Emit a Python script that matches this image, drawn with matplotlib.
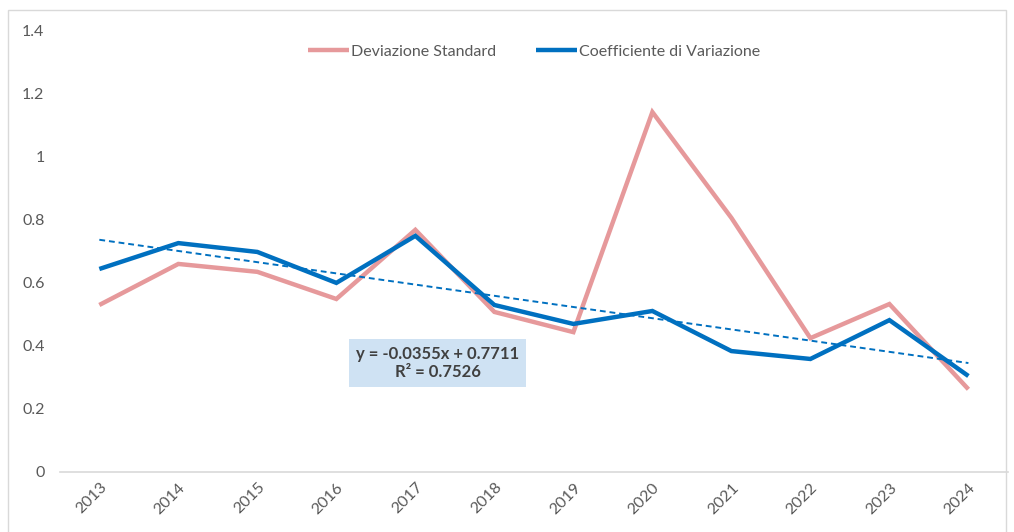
import matplotlib
matplotlib.use('Agg')
import matplotlib.pyplot as plt
import matplotlib.patches as patches
import numpy as np

years = ['2013', '2014', '2015', '2016', '2017', '2018', '2019', '2020', '2021', '2022', '2023', '2024']
dev_std = [0.529, 0.659, 0.634, 0.548, 0.767, 0.507, 0.443, 1.140, 0.805, 0.424, 0.532, 0.262]
coef_var = [0.643, 0.725, 0.697, 0.599, 0.748, 0.529, 0.469, 0.510, 0.383, 0.358, 0.481, 0.304]
trend_slope = -0.0355
trend_icpt = 0.7711
trend_r2 = 0.7526

plt.rcParams['font.family'] = ['Lato', 'DejaVu Sans']

fig = plt.figure(figsize=(10.14, 5.32), dpi=100, facecolor='white')
ax = fig.add_axes([0.059, 0.1128, 0.935, 0.8308])

x = np.arange(len(years))
ax.plot(x, dev_std, color='#e6999b', linewidth=3.2, label='Deviazione Standard',
        solid_capstyle='butt', solid_joinstyle='miter')
ax.plot(x, coef_var, color='#0070c0', linewidth=3.2, label='Coefficiente di Variazione',
        solid_capstyle='butt', solid_joinstyle='miter')

# linear trend of Coefficiente di Variazione (x = 1..12)
trend = trend_slope * (x + 1) + trend_icpt
ax.plot(x, trend, color='#0070c0', linewidth=1.4, linestyle=(0, (3, 2)))

ax.text(4.28, 0.345, f'y = {trend_slope}x + {trend_icpt}\nR² = {trend_r2}',
        ha='center', va='center', fontsize=12, fontweight='bold', color='#404040',
        linespacing=1.2,
        bbox=dict(boxstyle='square,pad=0.4', facecolor='#cfe2f3', edgecolor='none'))

ax.set_xlim(-0.5, 11.5)
ax.set_ylim(0, 1.4)
ax.set_yticks([0, 0.2, 0.4, 0.6, 0.8, 1.0, 1.2, 1.4])
ax.set_yticklabels(['0', '0.2', '0.4', '0.6', '0.8', '1', '1.2', '1.4'])
ax.set_xticks(x)
ax.set_xticklabels(years, rotation=45, ha='right', rotation_mode='anchor')

for s in ['top', 'right', 'left']:
    ax.spines[s].set_visible(False)
ax.spines['bottom'].set_color('#d9d9d9')
ax.spines['bottom'].set_linewidth(1.2)
ax.tick_params(axis='both', length=0, labelsize=11.5, labelcolor='#595959')
ax.tick_params(axis='y', pad=11)
ax.tick_params(axis='x', pad=6)

ax.legend(loc='upper center', bbox_to_anchor=(0.5, 1.0), ncol=2, frameon=False,
          fontsize=11.5, labelcolor='#595959', handlelength=2.6, handletextpad=0.1,
          columnspacing=2.5)

# outer chart frame
fig.patches.append(patches.Rectangle((8 / 1014, -0.1), 998 / 1014, 1.1 - 10 / 532,
                                     transform=fig.transFigure, fill=False,
                                     edgecolor='#d9d9d9', linewidth=1))

plt.savefig('out.png', dpi=100)
